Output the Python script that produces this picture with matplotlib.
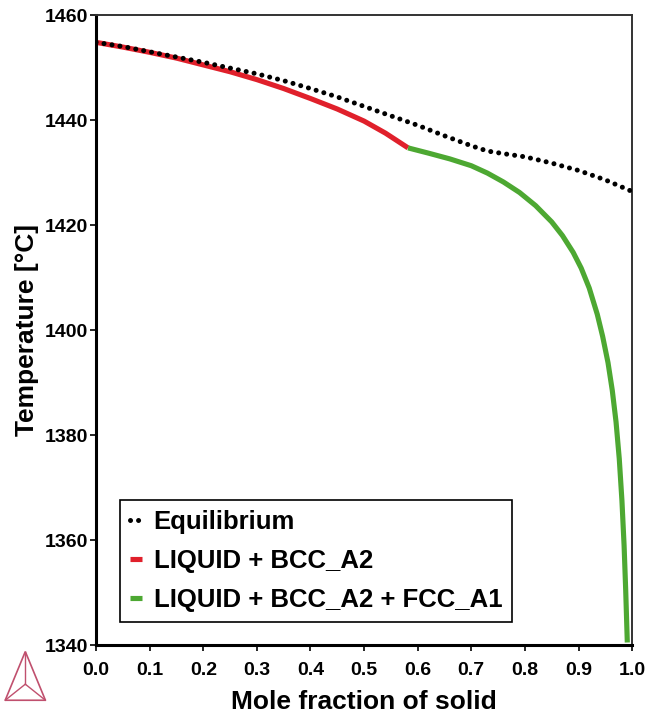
import numpy as np
import matplotlib
matplotlib.use("Agg")
import matplotlib.pyplot as plt
from matplotlib.patches import Polygon

plt.rcParams['font.family'] = ['Liberation Sans', 'DejaVu Sans']
plt.rcParams['font.weight'] = 'bold'

# equilibrium solidification curve
eq_x = [0.0, 0.05, 0.1, 0.15, 0.2, 0.25, 0.3, 0.35, 0.4, 0.45, 0.5, 0.55, 0.6,
        0.65, 0.7, 0.73, 0.76, 0.8, 0.85, 0.9, 0.95, 1.0]
eq_t = [1454.8, 1454.0, 1453.0, 1452.0, 1451.0, 1449.9, 1448.8, 1447.5, 1446.0,
        1444.4, 1442.6, 1440.8, 1439.0, 1437.0, 1435.1, 1434.1, 1433.6, 1433.0,
        1431.8, 1430.4, 1428.6, 1426.4]

# Scheil: LIQUID + BCC_A2
bcc_x = [0.0, 0.05, 0.1, 0.15, 0.2, 0.25, 0.3, 0.35, 0.4, 0.45, 0.5, 0.54, 0.582]
bcc_t = [1454.8, 1453.9, 1452.9, 1451.8, 1450.5, 1449.2, 1447.7, 1446.0, 1444.1,
         1442.1, 1439.8, 1437.5, 1434.7]

# Scheil: LIQUID + BCC_A2 + FCC_A1
fcc_x = [0.582, 0.62, 0.66, 0.7, 0.73, 0.76, 0.79, 0.82, 0.85, 0.87, 0.89, 0.905,
         0.92, 0.935, 0.945, 0.955, 0.963, 0.97, 0.976, 0.981, 0.985, 0.988,
         0.991]
fcc_t = [1434.7, 1433.7, 1432.6, 1431.3, 1429.9, 1428.2, 1426.2, 1423.7, 1420.6,
         1418.0, 1414.8, 1411.8, 1408.0, 1403.0, 1398.8, 1393.8, 1388.5, 1382.5,
         1375.5, 1367.5, 1359.0, 1350.5, 1340.5]

fig = plt.figure(figsize=(6.49, 7.16), dpi=100)
ax = fig.add_axes([0.148, 0.099, 0.826, 0.880])

ax.plot(bcc_x, bcc_t, color='#e0202b', lw=3.7, solid_capstyle='butt',
        label='LIQUID + BCC_A2', zorder=2)
ax.plot(fcc_x, fcc_t, color='#4da832', lw=3.7, solid_capstyle='butt',
        solid_joinstyle='round', label='LIQUID + BCC_A2 + FCC_A1', zorder=2)
ax.plot(eq_x, eq_t, color='black', lw=3.6, linestyle=(0, (0.01, 1.6)),
        dash_capstyle='round', label='Equilibrium', zorder=3)

ax.set_xlim(0, 1)
ax.set_ylim(1340, 1460)
ax.set_xticks(np.arange(0, 1.01, 0.1))
ax.set_xticklabels([f'{v:.1f}' for v in np.arange(0, 1.01, 0.1)])
ax.set_yticks([1340, 1360, 1380, 1400, 1420, 1440, 1460])
ax.tick_params(labelsize=14, length=4, width=1.2)
ax.tick_params(axis='y', pad=2)
ax.tick_params(axis='x', pad=8)

ax.set_xlabel('Mole fraction of solid', fontsize=19, fontweight='bold', labelpad=8)
ax.set_ylabel('Temperature [°C]', fontsize=19, fontweight='bold', labelpad=4)

for s in ['left', 'bottom']:
    ax.spines[s].set_linewidth(2.2)
for s in ['top', 'right']:
    ax.spines[s].set_linewidth(1.4)
    ax.spines[s].set_color('#333333')

h, l = ax.get_legend_handles_labels()
order = [2, 0, 1]
leg = ax.legend([h[i] for i in order], [l[i] for i in order],
                loc='lower left', bbox_to_anchor=(0.045, 0.0365), borderaxespad=0,
                fontsize=18.5, handlelength=0.45, handletextpad=0.45,
                labelspacing=0.58, borderpad=0.4, fancybox=False,
                framealpha=1, edgecolor='black')
leg.get_frame().set_linewidth(1.2)

# small triangle logo bottom-left
lx, ly, w, hh = 0.008, 0.022, 0.062, 0.068
tri = [(lx, ly), (lx + w, ly), (lx + w / 2, ly + hh)]
fig.patches.append(Polygon(tri, closed=True, fill=False, edgecolor='#c0506e',
                           lw=1.2, transform=fig.transFigure))
cx, cy = lx + w / 2, ly + hh * 0.33
for px, py in tri:
    fig.lines.append(plt.Line2D([cx, px], [cy, py], color='#c0506e', lw=1.0,
                                transform=fig.transFigure))

fig.savefig('out.png', dpi=100)
